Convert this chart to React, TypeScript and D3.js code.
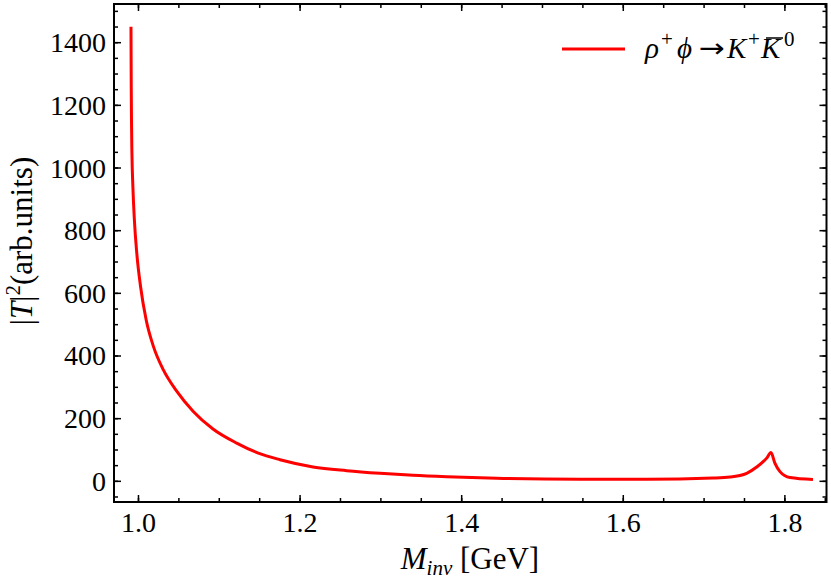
import React, { useLayoutEffect, useRef, useState } from "react";
import * as d3 from "d3";

// invariant mass [GeV] and |T|^2
const mInv = [
  0.99072, 0.99103, 0.99134, 0.99189, 0.99307, 0.99493, 0.9979, 1.0026, 1.00953, 1.01856,
  1.03094, 1.04728, 1.06782, 1.0922, 1.12153, 1.14827, 1.17512, 1.21597, 1.25767, 1.29889,
  1.33973, 1.38144, 1.44332, 1.54641, 1.62896, 1.71101, 1.73205, 1.75272, 1.7651, 1.77748,
  1.7828, 1.78775, 1.79394, 1.80631, 1.83478,
];
const tSquared = [
  1451, 1259, 1153, 1047, 940, 834, 728, 621, 515, 430,
  355, 288, 223, 167, 122, 90, 69, 46, 34, 25.5,
  19, 14.4, 9.6, 6.4, 6.4, 10.5, 13.7, 25.5, 45.6, 74,
  92, 57, 31, 12, 5.7,
];

const xTicks = [1.0, 1.2, 1.4, 1.6, 1.8];
const yTicks = [0, 200, 400, 600, 800, 1000, 1200, 1400];

const W = 831;
const H = 580;
const plot = { left: 114, right: 826.5, top: 4, bottom: 502 };
const font = "'Liberation Serif', 'Times New Roman', serif";

export default function App() {
  const x = d3.scaleLinear().domain([0.9697, 1.8515]).range([plot.left, plot.right]);
  const y = d3.scaleLinear().domain([-66, 1523.5]).range([plot.bottom, plot.top]);

  const pts = mInv.map((m, i) => [m, tSquared[i]] as [number, number]);
  const line = d3
    .line<[number, number]>()
    .x((d) => x(d[0]))
    .y((d) => y(d[1]))
    .curve(d3.curveMonotoneX);

  const xMinor = d3.range(0.95, 1.86, 0.05).filter((v) => v >= 0.9697 && v <= 1.8515);
  const yMinor = d3.range(-50, 1521, 50);

  // overline on the anti-kaon, measured from the rendered glyph
  const kbarRef = useRef<SVGTextElement>(null);
  const [bar, setBar] = useState<{ x1: number; x2: number; y: number } | null>(null);
  useLayoutEffect(() => {
    const el = kbarRef.current;
    if (!el) return;
    const b = el.getBBox();
    setBar({ x1: b.x + 6, x2: b.x + b.width + 1, y: b.y + 6 });
  }, []);

  const major = 7;
  const minor = 4;

  return (
    <svg
      width={W}
      height={H}
      style={{ position: "absolute", left: 0, top: 0, background: "#fff" }}
      fontFamily={font}
    >
      <path d={line(pts) || ""} fill="none" stroke="#ff0000" strokeWidth={3} />

      {/* ticks, inward on all four sides */}
      <g stroke="#000" strokeWidth={1.5}>
        {xTicks.map((t) => (
          <g key={"xM" + t}>
            <line x1={x(t)} x2={x(t)} y1={plot.bottom} y2={plot.bottom - major} />
            <line x1={x(t)} x2={x(t)} y1={plot.top} y2={plot.top + major} />
          </g>
        ))}
        {xMinor.map((t) => (
          <g key={"xm" + t}>
            <line x1={x(t)} x2={x(t)} y1={plot.bottom} y2={plot.bottom - minor} />
            <line x1={x(t)} x2={x(t)} y1={plot.top} y2={plot.top + minor} />
          </g>
        ))}
        {yTicks.map((t) => (
          <g key={"yM" + t}>
            <line x1={plot.left} x2={plot.left + major} y1={y(t)} y2={y(t)} />
            <line x1={plot.right} x2={plot.right - major} y1={y(t)} y2={y(t)} />
          </g>
        ))}
        {yMinor.map((t) => (
          <g key={"ym" + t}>
            <line x1={plot.left} x2={plot.left + minor} y1={y(t)} y2={y(t)} />
            <line x1={plot.right} x2={plot.right - minor} y1={y(t)} y2={y(t)} />
          </g>
        ))}
      </g>

      <rect
        x={plot.left}
        y={plot.top}
        width={plot.right - plot.left}
        height={plot.bottom - plot.top}
        fill="none"
        stroke="#000"
        strokeWidth={2}
      />

      {/* tick labels */}
      <g fontSize={28} fill="#000">
        {xTicks.map((t) => (
          <text key={"xl" + t} x={x(t)} y={plot.bottom + 30} textAnchor="middle">
            {t.toFixed(1)}
          </text>
        ))}
        {yTicks.map((t) => (
          <text key={"yl" + t} x={plot.left - 8} y={y(t) + 9.5} textAnchor="end">
            {t}
          </text>
        ))}
      </g>

      {/* axis titles */}
      <text x={470} y={569} textAnchor="middle" fontSize={31}>
        <tspan fontStyle="italic">M</tspan>
        <tspan fontStyle="italic" fontSize={21} dy={6}>inv</tspan>
        <tspan dy={-6}> [GeV]</tspan>
      </text>
      <text transform={`translate(32, 241) rotate(-90)`} textAnchor="middle" fontSize={31}>
        <tspan>|</tspan>
        <tspan fontStyle="italic">T</tspan>
        <tspan>|</tspan>
        <tspan fontSize={21} dy={-12}>2</tspan>
        <tspan dy={12}>(arb.units)</tspan>
      </text>

      {/* legend */}
      <line x1={562} x2={625} y1={49} y2={49} stroke="#ff0000" strokeWidth={3} />
      <g fontSize={29}>
        <text x={645} y={58} fontStyle="italic">ρ</text>
        <text x={661} y={46} fontSize={21}>+</text>
        <text x={677} y={58} fontStyle="italic">ϕ</text>
        <text
          x={699}
          y={57}
          fontFamily="'DejaVu Sans', sans-serif"
          fontSize={26}
          textLength={26}
          lengthAdjust="spacingAndGlyphs"
        >
          →
        </text>
        <text x={727} y={58} fontStyle="italic">K</text>
        <text x={748} y={46} fontSize={21}>+</text>
        <text ref={kbarRef} x={761} y={58} fontStyle="italic">K</text>
        <text x={784} y={46} fontSize={21}>0</text>
      </g>
      {bar && (
        <line x1={bar.x1} x2={bar.x2} y1={bar.y} y2={bar.y} stroke="#000" strokeWidth={1.5} />
      )}
    </svg>
  );
}
